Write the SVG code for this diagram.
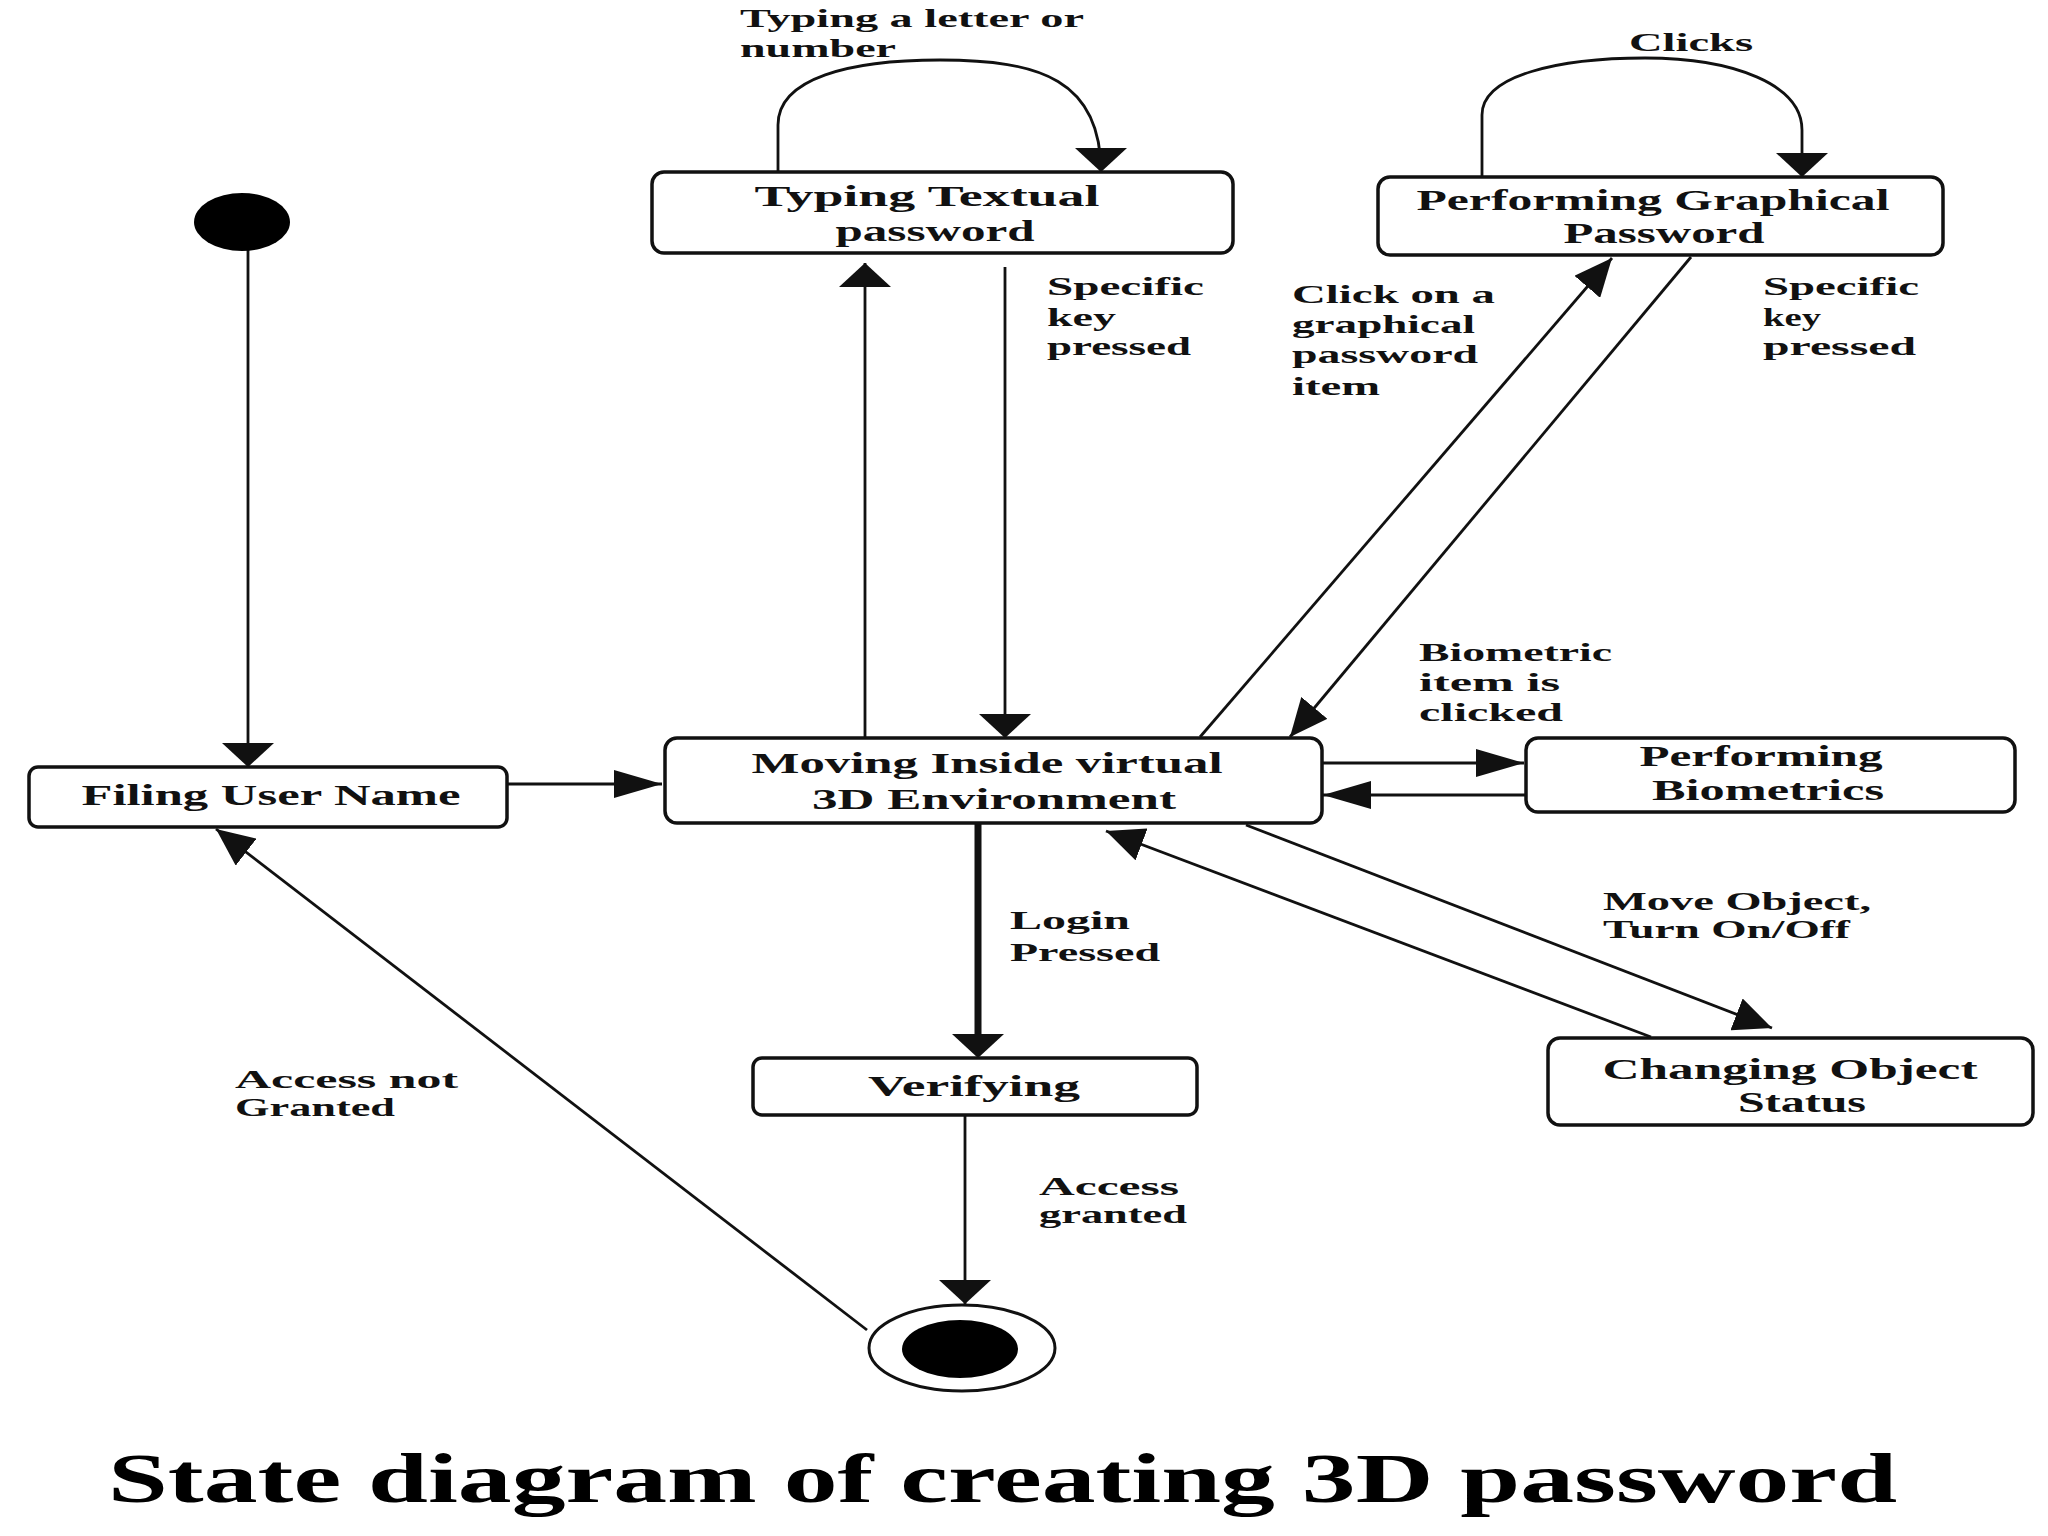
<svg xmlns="http://www.w3.org/2000/svg" width="2048" height="1536" viewBox="0 0 2048 1536">
<style>
.box{fill:#fff;stroke:#111;stroke-width:3.5}
.nt{font-family:"Liberation Serif","Times New Roman",serif;font-size:29px;font-weight:bold;fill:#111;text-anchor:middle}
.et{font-family:"Liberation Serif","Times New Roman",serif;font-size:25px;font-weight:bold;fill:#111}
.ln{fill:none;stroke:#111;stroke-width:2.8}
.thick{fill:none;stroke:#111;stroke-width:7}
.title{font-family:"Liberation Serif","Times New Roman",serif;font-size:70px;font-weight:bold;fill:#000}
</style>
<defs>
<marker id="arrV" markerUnits="userSpaceOnUse" viewBox="0 0 24 52" markerWidth="24" markerHeight="52" refX="24" refY="26" orient="auto"><path d="M0,0 L24,26 L0,52 Z" fill="#111"/></marker>
<marker id="arrVb" markerUnits="userSpaceOnUse" viewBox="0 0 24 52" markerWidth="24" markerHeight="52" refX="0" refY="26" orient="auto"><path d="M0,0 L24,26 L0,52 Z" fill="#111"/></marker>
<marker id="arrH" markerUnits="userSpaceOnUse" viewBox="0 0 48 28" markerWidth="48" markerHeight="28" refX="48" refY="14" orient="auto"><path d="M0,0 L48,14 L0,28 Z" fill="#111"/></marker>
<marker id="arrD" markerUnits="userSpaceOnUse" viewBox="0 0 38 34" markerWidth="38" markerHeight="34" refX="38" refY="17" orient="auto"><path d="M0,0 L38,17 L0,34 Z" fill="#111"/></marker>
</defs>
<rect width="2048" height="1536" fill="#fff"/>

<g id="connectors">
<line class="ln" x1="248" y1="250" x2="248" y2="767" marker-end="url(#arrV)"/>
<line class="ln" x1="507" y1="784" x2="662" y2="784" marker-end="url(#arrH)"/>
<line class="ln" x1="865" y1="738" x2="865" y2="263" marker-end="url(#arrV)"/>
<line class="ln" x1="1005" y1="267" x2="1005" y2="738" marker-end="url(#arrV)"/>
<path class="ln" d="M778,172 L778,125 C778,78 850,60 940,60 C1040,60 1101,80 1101,172" marker-end="url(#arrV)"/>
<path class="ln" d="M1482,177 L1482,115 C1482,75 1560,58 1645,58 C1735,58 1802,85 1802,130 L1802,177" marker-end="url(#arrV)"/>
<line class="ln" x1="1200" y1="737" x2="1612" y2="258" marker-end="url(#arrD)"/>
<line class="ln" x1="1691" y1="257" x2="1290" y2="737" marker-end="url(#arrD)"/>
<line class="ln" x1="1322" y1="763" x2="1524" y2="763" marker-end="url(#arrH)"/>
<line class="ln" x1="1526" y1="795" x2="1323" y2="795" marker-end="url(#arrH)"/>
<line class="ln" x1="1246" y1="825" x2="1772" y2="1028" marker-end="url(#arrD)"/>
<line class="ln" x1="1651" y1="1037" x2="1106" y2="831" marker-end="url(#arrD)"/>
<line class="thick" x1="978" y1="823" x2="978" y2="1034" marker-end="url(#arrVb)"/>
<line class="ln" x1="965" y1="1115" x2="965" y2="1304" marker-end="url(#arrV)"/>
<line class="ln" x1="867" y1="1330" x2="216" y2="829" marker-end="url(#arrD)"/>
</g>

<g id="initial">
<ellipse cx="242" cy="222" rx="48" ry="29" fill="#000"/>
</g>

<g id="filing">
<rect class="box" x="29" y="767" width="478" height="60" rx="9"/>
<text class="nt" x="271" y="805" textLength="379" lengthAdjust="spacingAndGlyphs">Filing User Name</text>
</g>

<g id="moving">
<rect class="box" x="665" y="738" width="657" height="85" rx="12"/>
<text class="nt" x="987" y="773" textLength="471" lengthAdjust="spacingAndGlyphs">Moving Inside virtual</text>
<text class="nt" x="994" y="809" textLength="364" lengthAdjust="spacingAndGlyphs">3D Environment</text>
</g>

<g id="typing">
<rect class="box" x="652" y="172" width="581" height="81" rx="12"/>
<text class="nt" x="927" y="206" textLength="345" lengthAdjust="spacingAndGlyphs">Typing Textual</text>
<text class="nt" x="935" y="241" textLength="199" lengthAdjust="spacingAndGlyphs">password</text>
</g>

<g id="graphical">
<rect class="box" x="1378" y="177" width="565" height="78" rx="12"/>
<text class="nt" x="1653" y="210" textLength="473" lengthAdjust="spacingAndGlyphs">Performing Graphical</text>
<text class="nt" x="1664" y="243" textLength="201" lengthAdjust="spacingAndGlyphs">Password</text>
</g>

<g id="biometrics">
<rect class="box" x="1526" y="738" width="489" height="74" rx="12"/>
<text class="nt" x="1761" y="766" textLength="243" lengthAdjust="spacingAndGlyphs">Performing</text>
<text class="nt" x="1768" y="800" textLength="232" lengthAdjust="spacingAndGlyphs">Biometrics</text>
</g>

<g id="changing">
<rect class="box" x="1548" y="1038" width="485" height="87" rx="12"/>
<text class="nt" x="1790" y="1079" textLength="375" lengthAdjust="spacingAndGlyphs">Changing Object</text>
<text class="nt" x="1802" y="1112" textLength="128" lengthAdjust="spacingAndGlyphs">Status</text>
</g>

<g id="verifying">
<rect class="box" x="753" y="1058" width="444" height="57" rx="9"/>
<text class="nt" x="974" y="1096" textLength="212" lengthAdjust="spacingAndGlyphs">Verifying</text>
</g>

<g id="final">
<ellipse cx="962" cy="1348" rx="93" ry="43" fill="#fff" stroke="#111" stroke-width="3"/>
<ellipse cx="960" cy="1349" rx="58" ry="29" fill="#000"/>
</g>

<g id="labels">
<text class="et" x="740" y="27" textLength="344" lengthAdjust="spacingAndGlyphs">Typing a letter or</text>
<text class="et" x="740" y="57" textLength="156" lengthAdjust="spacingAndGlyphs">number</text>
<text class="et" x="1047" y="295" textLength="157" lengthAdjust="spacingAndGlyphs">Specific</text>
<text class="et" x="1047" y="326" textLength="69" lengthAdjust="spacingAndGlyphs">key</text>
<text class="et" x="1047" y="355" textLength="144" lengthAdjust="spacingAndGlyphs">pressed</text>
<text class="et" x="1629" y="51" textLength="124" lengthAdjust="spacingAndGlyphs">Clicks</text>
<text class="et" x="1292" y="303" textLength="203" lengthAdjust="spacingAndGlyphs">Click on a</text>
<text class="et" x="1292" y="333" textLength="183" lengthAdjust="spacingAndGlyphs">graphical</text>
<text class="et" x="1292" y="363" textLength="186" lengthAdjust="spacingAndGlyphs">password</text>
<text class="et" x="1292" y="395" textLength="88" lengthAdjust="spacingAndGlyphs">item</text>
<text class="et" x="1763" y="295" textLength="156" lengthAdjust="spacingAndGlyphs">Specific</text>
<text class="et" x="1763" y="326" textLength="58" lengthAdjust="spacingAndGlyphs">key</text>
<text class="et" x="1763" y="355" textLength="153" lengthAdjust="spacingAndGlyphs">pressed</text>
<text class="et" x="1419" y="661" textLength="193" lengthAdjust="spacingAndGlyphs">Biometric</text>
<text class="et" x="1419" y="691" textLength="141" lengthAdjust="spacingAndGlyphs">item is</text>
<text class="et" x="1419" y="721" textLength="144" lengthAdjust="spacingAndGlyphs">clicked</text>
<text class="et" x="1603" y="910" textLength="268" lengthAdjust="spacingAndGlyphs">Move Object,</text>
<text class="et" x="1603" y="938" textLength="247" lengthAdjust="spacingAndGlyphs">Turn On/Off</text>
<text class="et" x="1010" y="929" textLength="120" lengthAdjust="spacingAndGlyphs">Login</text>
<text class="et" x="1010" y="961" textLength="150" lengthAdjust="spacingAndGlyphs">Pressed</text>
<text class="et" x="235" y="1088" textLength="223" lengthAdjust="spacingAndGlyphs">Access not</text>
<text class="et" x="235" y="1116" textLength="160" lengthAdjust="spacingAndGlyphs">Granted</text>
<text class="et" x="1039" y="1195" textLength="140" lengthAdjust="spacingAndGlyphs">Access</text>
<text class="et" x="1039" y="1223" textLength="148" lengthAdjust="spacingAndGlyphs">granted</text>
</g>

<text class="title" x="108" y="1502" textLength="1789" lengthAdjust="spacingAndGlyphs">State diagram of creating 3D password</text>
</svg>
